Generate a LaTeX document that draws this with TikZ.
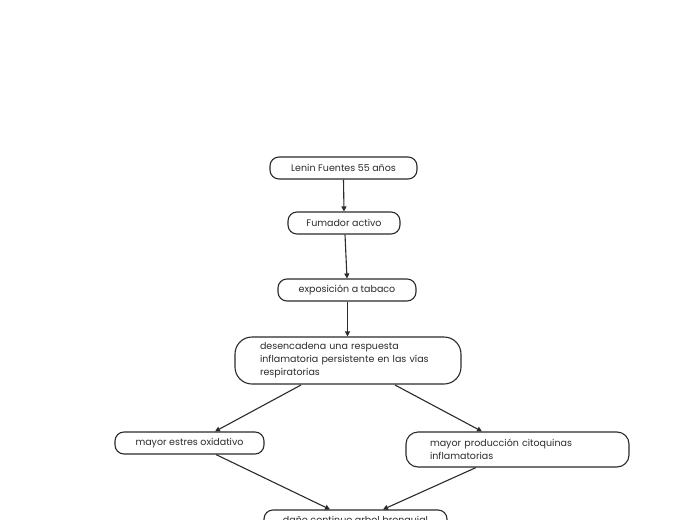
\documentclass[tikz,border=0pt]{standalone}
\usepackage{fontspec}
\setmainfont{Poppins}
\usetikzlibrary{arrows.meta}
\definecolor{ink}{HTML}{2B2B2B}
\tikzset{
  box/.style={draw=ink, line width=1.1pt, rounded corners=9pt, minimum height=22pt, inner sep=0pt, text=ink, font=\fontsize{9.5}{13}\selectfont, fill=white},
  multibox/.style={box, align=left},
  conn/.style={draw=ink, line width=1.1pt, -{Triangle[length=5pt,width=5pt]}}
}
\begin{document}
\begin{tikzpicture}[x=1pt,y=-1pt]
\clip (0,0) rectangle (697,520);
\fill[white] (0,0) rectangle (697,520);
\node[box, minimum width=147pt] (lenin) at (343.5,168) {Lenin Fuentes 55 años};
\node[box, minimum width=112pt] (fum) at (344,223) {Fumador activo};
\node[box, minimum width=138pt] (expo) at (347,290) {exposición a tabaco};
\node[multibox, rounded corners=17pt, minimum height=47pt, text width=176pt, inner xsep=25pt] (desc) at (348,360.5) {desencadena una respuesta\\inflamatoria persistente en las vías\\respiratorias};
\node[box, minimum width=149pt] (estres) at (189.5,443) {mayor estres oxidativo};
\node[multibox, rounded corners=12pt, minimum height=35pt, text width=175pt, inner xsep=24pt] (cito) at (517.5,449.5) {mayor producción citoquinas\\inflamatorias};
\node[box, minimum width=183pt] (dano) at (355.5,521) {daño continuo arbol bronquial};
\coordinate (d1) at (301,385);
\coordinate (d2) at (395,385);
\draw[conn] (lenin.south) -- (fum.north);
\draw[conn] (fum.south) ++(1,0) -- (expo.north);
\draw[conn] (expo.south -| 347.5,0) -- (desc.north -| 347.5,0);
\draw[conn] (d1) -- (estres.north -| 215,0);
\draw[conn] (d2) -- (cito.north -| 482,0);
\draw[conn] (estres.south -| 216,0) -- (dano.north -| 330,0);
\draw[conn] (cito.south -| 476,0) -- (dano.north -| 383,0);
\end{tikzpicture}
\end{document}
